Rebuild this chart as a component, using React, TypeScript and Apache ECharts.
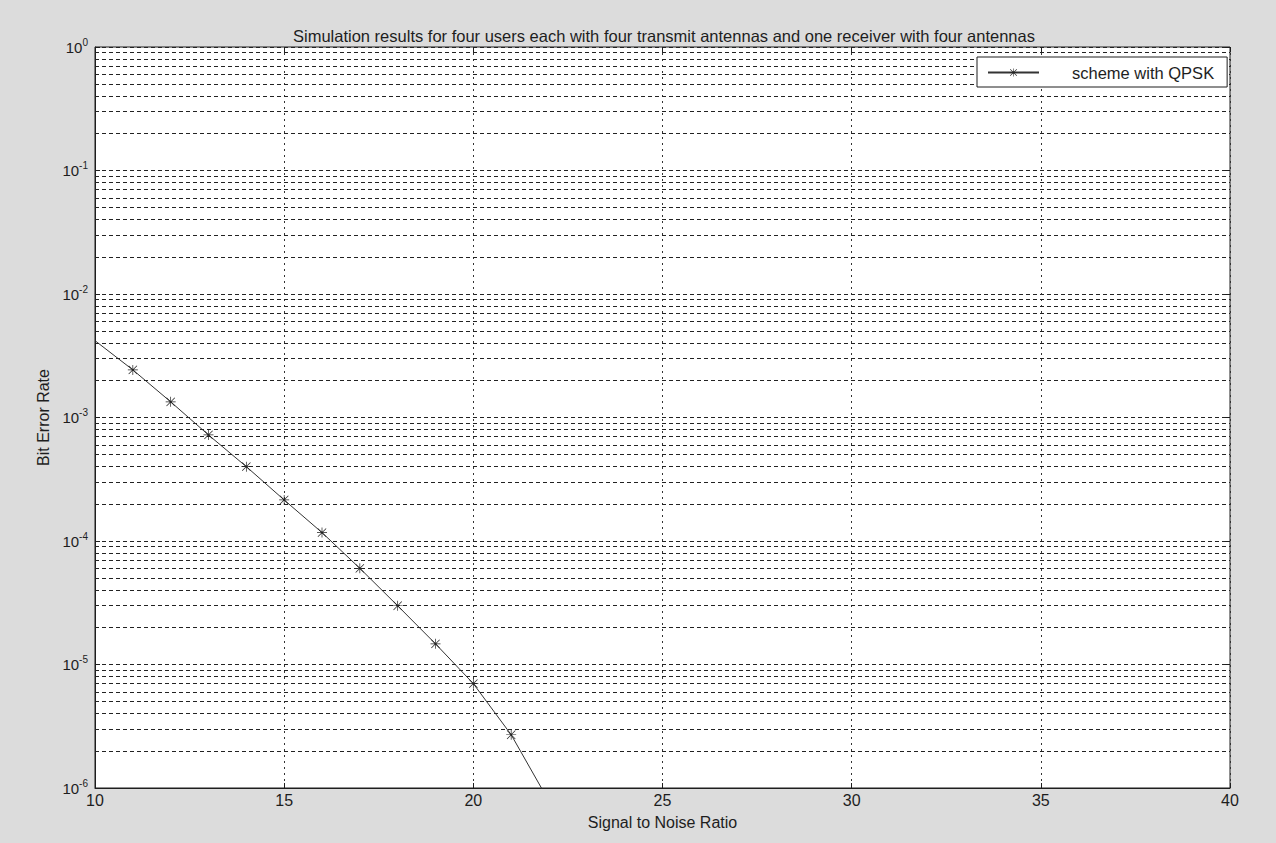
import React, { useEffect, useRef } from "react";
import * as echarts from "echarts";

const TITLE =
  "Simulation results for four users each with four transmit antennas and one receiver with four antennas";
const X_NAME = "Signal to Noise Ratio";
const Y_NAME = "Bit Error Rate";
const SERIES_NAME = "scheme with QPSK";

const snr = [10, 11, 12, 13, 14, 15, 16, 17, 18, 19, 20, 21, 22];
const ber = [
  4.19e-3, 2.43e-3, 1.34e-3, 7.22e-4, 4.0e-4, 2.15e-4, 1.17e-4, 6.01e-5, 2.99e-5,
  1.47e-5, 7.0e-6, 2.7e-6, 7.8e-7,
];

const X_MIN = 10;
const X_MAX = 40;
const X_STEP = 5;
const Y_MIN_EXP = -6;
const Y_MAX_EXP = 0;
const MINOR_MULTIPLIERS = [2, 3, 4, 5, 6, 7, 8, 9];

const STAR =
  "path://M9.3,0 L10.7,0 L10.7,20 L9.3,20 Z M0,9.3 L20,9.3 L20,10.7 L0,10.7 Z M2.2,1.2 L18.8,17.8 L17.8,18.8 L1.2,2.2 Z M17.8,1.2 L18.8,2.2 L2.2,18.8 L1.2,17.8 Z";

const FONT = "'Liberation Sans', Arial, sans-serif";
const INK = "#1e1e1e";
const GRID_DASH = [4, 3];

export default function App() {
  const ref = useRef<HTMLDivElement>(null);

  useEffect(() => {
    if (!ref.current) return;
    const chart = echarts.init(ref.current, null, { renderer: "svg" });

    const minorLines: any[] = [];
    for (let e = Y_MIN_EXP; e < Y_MAX_EXP; e++) {
      for (const k of MINOR_MULTIPLIERS) {
        minorLines.push({ yAxis: k * Math.pow(10, e) });
      }
    }

    const data = snr.map((x, i) =>
      i === 0 ? { value: [x, ber[i]], symbol: "none" } : { value: [x, ber[i]] }
    );

    const yLabel = (v: number) => {
      const e = Math.round(Math.log10(v));
      return `{b|10}{s|${e}}`;
    };

    chart.setOption({
      animation: false,
      backgroundColor: "#dcdcdc",
      textStyle: { fontFamily: FONT, color: INK },
      title: {
        text: TITLE,
        left: 288,
        top: 22,
        textStyle: { fontFamily: FONT, fontSize: 16.5, fontWeight: "normal", color: INK },
      },
      legend: {
        left: 977,
        top: 57,
        z: 20,
        zlevel: 1,
        orient: "vertical",
        backgroundColor: "#ffffff",
        borderColor: INK,
        borderWidth: 1,
        borderRadius: 0,
        padding: [7, 13, 6, 10],
        itemWidth: 51,
        itemHeight: 10,
        textStyle: { fontFamily: FONT, fontSize: 16.5, color: INK, padding: [0, 0, 0, 28] },
        data: [SERIES_NAME],
      },
      grid: {
        left: 95,
        right: 1276 - 1230,
        top: 47,
        bottom: 843 - 788,
        show: true,
        backgroundColor: "#ffffff",
        borderColor: INK,
        borderWidth: 1,
      },
      xAxis: [
        {
          type: "value",
          min: X_MIN,
          max: X_MAX,
          interval: X_STEP,
          name: X_NAME,
          nameLocation: "middle",
          nameGap: 26,
          nameTextStyle: { fontFamily: FONT, fontSize: 16, color: INK },
          axisLine: { show: true, lineStyle: { color: INK, width: 1 } },
          axisTick: { show: true, inside: true, length: 5, lineStyle: { color: INK } },
          axisLabel: { fontFamily: FONT, fontSize: 16, color: INK, margin: 4 },
          splitLine: { show: true, lineStyle: { color: "#333", type: [2, 4], width: 1 } },
        },
        {
          type: "value",
          position: "top",
          min: X_MIN,
          max: X_MAX,
          interval: X_STEP,
          axisLine: { show: false },
          axisTick: { show: true, inside: true, length: 5, lineStyle: { color: INK } },
          axisLabel: { show: false },
          splitLine: { show: false },
        },
      ],
      yAxis: [
        {
          type: "log",
          logBase: 10,
          min: Math.pow(10, Y_MIN_EXP),
          max: Math.pow(10, Y_MAX_EXP),
          name: Y_NAME,
          nameLocation: "middle",
          nameGap: 42,
          nameRotate: 90,
          nameTextStyle: { fontFamily: FONT, fontSize: 16, color: INK },
          axisLine: { show: true, lineStyle: { color: INK, width: 1 } },
          axisTick: { show: true, inside: true, length: 5, lineStyle: { color: INK } },
          axisLabel: {
            formatter: yLabel,
            margin: 7,
            rich: {
              b: { fontFamily: FONT, fontSize: 15, color: INK },
              s: { fontFamily: FONT, fontSize: 10, color: INK, padding: [0, 0, 10, 0] },
            },
          },
          splitLine: { show: true, lineStyle: { color: "#222", type: GRID_DASH, width: 1 } },
        },
        {
          type: "log",
          logBase: 10,
          position: "right",
          min: Math.pow(10, Y_MIN_EXP),
          max: Math.pow(10, Y_MAX_EXP),
          axisLine: { show: false },
          axisTick: { show: true, inside: true, length: 5, lineStyle: { color: INK } },
          axisLabel: { show: false },
          splitLine: { show: false },
        },
      ],
      series: [
        {
          name: SERIES_NAME,
          type: "line",
          xAxisIndex: 0,
          yAxisIndex: 0,
          data,
          clip: true,
          symbol: STAR,
          symbolSize: 10,
          showSymbol: true,
          lineStyle: { color: "#333", width: 1 },
          itemStyle: { color: "#222" },
          markLine: {
            silent: true,
            precision: 12,
            symbol: ["none", "none"],
            label: { show: false },
            lineStyle: { color: "#222", type: GRID_DASH, width: 1 },
            data: minorLines,
          },
          z: 2,
        },
      ],
    });

    return () => chart.dispose();
  }, []);

  return (
    <div
      ref={ref}
      style={{ position: "fixed", left: 0, top: 0, width: 1276, height: 843 }}
    />
  );
}
